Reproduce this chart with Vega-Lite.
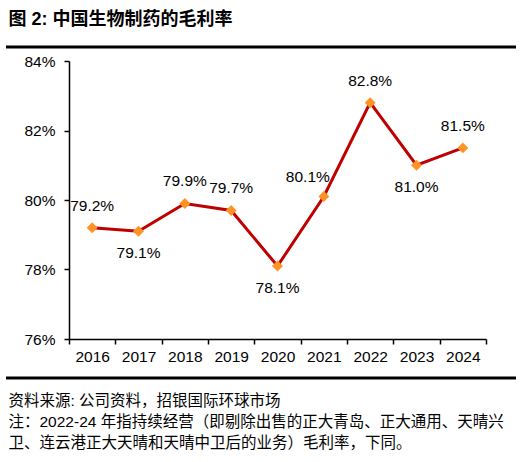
{
  "$schema": "https://vega.github.io/schema/vega-lite/v6.json",
  "background": "white",
  "padding": {"left": 4, "top": 10, "right": 0, "bottom": 0},
  "config": {
    "font": "Liberation Sans, Noto Sans CJK SC",
    "view": {"stroke": null},
    "concat": {"spacing": 5}
  },
  "vconcat": [
    {
      "width": 510,
      "height": 1,
      "title": {
        "text": "图 2: 中国生物制药的毛利率",
        "anchor": "start",
        "fontSize": 18,
        "fontWeight": "bold",
        "color": "black",
        "offset": 17,
        "dx": 4
      },
      "data": {"values": [{"r": 0}]},
      "mark": {"type": "rule", "strokeWidth": 3, "color": "black"},
      "encoding": {
        "y": {"field": "r", "type": "quantitative", "axis": null, "scale": {"domain": [0, 1]}}
      }
    },
    {
      "width": 510,
      "height": 278,
      "data": {
        "values": [
          {"year": "2016", "gm": 0.792},
          {"year": "2017", "gm": 0.791},
          {"year": "2018", "gm": 0.799},
          {"year": "2019", "gm": 0.797},
          {"year": "2020", "gm": 0.781},
          {"year": "2021", "gm": 0.801},
          {"year": "2022", "gm": 0.828},
          {"year": "2023", "gm": 0.810},
          {"year": "2024", "gm": 0.815}
        ]
      },
      "encoding": {
        "x": {
          "field": "year",
          "type": "ordinal",
          "bandPosition": 0.5,
          "scale": {"type": "band", "paddingInner": 0, "paddingOuter": 0, "range": [63, 480]},
          "axis": {
            "title": null,
            "labelAngle": 0,
            "tickBand": "extent",
            "labelFontSize": 15.5,
            "labelColor": "black",
            "tickSize": 5,
            "tickColor": "black",
            "domainColor": "black",
            "domainWidth": 1.5,
            "tickWidth": 1.5,
            "labelPadding": 5
          }
        },
        "y": {
          "field": "gm",
          "type": "quantitative",
          "scale": {"domain": [0.76, 0.84], "nice": false, "zero": false},
          "axis": {
            "title": null,
            "offset": -63,
            "values": [0.76, 0.78, 0.80, 0.82, 0.84],
            "format": ".0%",
            "grid": false,
            "labelFontSize": 15.5,
            "labelColor": "black",
            "tickSize": 5,
            "tickColor": "black",
            "tickWidth": 1.5,
            "domainColor": "black",
            "domainWidth": 1.5,
            "labelPadding": 9
          }
        }
      },
      "layer": [
        {"mark": {"type": "line", "color": "#C00000", "strokeWidth": 3}},
        {
          "mark": {"type": "point", "shape": "diamond", "filled": true, "color": "#FF9326", "opacity": 1, "size": 120}
        },
        {
          "transform": [{"filter": {"field": "year", "oneOf": ["2016", "2018", "2019", "2022", "2024"]}}],
          "mark": {"type": "text", "dy": -22, "fontSize": 15.5, "color": "black", "baseline": "middle"},
          "encoding": {"text": {"field": "gm", "type": "quantitative", "format": ".1%"}}
        },
        {
          "transform": [{"filter": {"field": "year", "oneOf": ["2017", "2020", "2023"]}}],
          "mark": {"type": "text", "dy": 22, "fontSize": 15.5, "color": "black", "baseline": "middle"},
          "encoding": {"text": {"field": "gm", "type": "quantitative", "format": ".1%"}}
        },
        {
          "transform": [{"filter": {"field": "year", "equal": "2021"}}],
          "mark": {"type": "text", "dy": -20, "dx": -16, "fontSize": 15.5, "color": "black", "baseline": "middle"},
          "encoding": {"text": {"field": "gm", "type": "quantitative", "format": ".1%"}}
        }
      ]
    },
    {
      "width": 510,
      "height": 8,
      "title": {
        "text": [
          "资料来源: 公司资料，招银国际环球市场",
          "注：2022-24 年指持续经营（即剔除出售的正大青岛、正大通用、天晴兴",
          "卫、连云港正大天晴和天晴中卫后的业务）毛利率，下同。"
        ],
        "orient": "bottom",
        "anchor": "start",
        "fontSize": 15.5,
        "fontWeight": "normal",
        "color": "black",
        "lineHeight": 21,
        "offset": 14,
        "dx": 4
      },
      "data": {"values": [{"r": 0}]},
      "mark": {"type": "rule", "strokeWidth": 3, "color": "black"},
      "encoding": {
        "y": {"field": "r", "type": "quantitative", "axis": null, "scale": {"domain": [0, 1]}}
      }
    }
  ]
}
